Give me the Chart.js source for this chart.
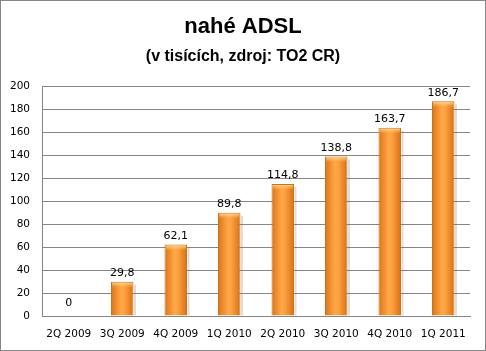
<!DOCTYPE html>
<html>
<head>
<meta charset="utf-8">
<script src="https://cdn.jsdelivr.net/npm/chart.js@4"></script>
<style>
  html, body { margin: 0; padding: 0; background: #fff; }
  #wrap { width: 486px; height: 351px; }
</style>
</head>
<body>
<div id="wrap"><canvas id="chart" width="486" height="351"></canvas></div>
<script>
// data
const categories = ["2Q 2009", "3Q 2009", "4Q 2009", "1Q 2010", "2Q 2010", "3Q 2010", "4Q 2010", "1Q 2011"];
const adslValues = [0, 29.8, 62.1, 89.8, 114.8, 138.8, 163.7, 186.7];
const titleText = "nahé ADSL";
const subtitleText = "(v tisících, zdroj: TO2 CR)";

const canvas = document.getElementById("chart");
const ctx = canvas.getContext("2d");

const fmt = (v) => String(v).replace(".", ",");

new Chart(ctx, {
  type: "bar",
  data: {
    labels: categories,
    datasets: [{
      data: adslValues,
      backgroundColor: () => "#f7922e", // функция -> у каждого столбца свои options
      borderColor: "#c9711c",
      borderWidth: 1,
      barPercentage: 0.42,
      categoryPercentage: 1,
    }],
  },
  options: {
    responsive: false,
    animation: false,
    layout: { padding: { top: 86, right: 16, left: 0, bottom: 0 } },
    plugins: { legend: { display: false }, tooltip: { enabled: false } },
    scales: {
      x: {
        grid: { display: false, drawTicks: false },
        border: { display: true, color: "#868686", width: 1 },
        ticks: { color: "#000", font: { family: "DejaVu Sans", size: 10.5 }, padding: 12, maxRotation: 0 },
        afterFit: (s) => { s.height = 35; },
      },
      y: {
        min: 0,
        max: 200,
        grid: { color: "#868686", lineWidth: 1, drawTicks: false },
        border: { display: true, color: "#868686", width: 1 },
        ticks: { stepSize: 20, color: "#000", font: { family: "DejaVu Sans", size: 10.5 }, padding: 12 },
        afterFit: (s) => { s.width = 42; },
      },
    },
  },
  plugins: [
    {
      // orange gradient for each bar
      id: "barGradient",
      beforeDatasetsDraw(chart) {
        const c = chart.ctx;
        chart.getDatasetMeta(0).data.forEach((bar) => {
          const half = bar.width / 2;
          const g = c.createLinearGradient(bar.x - half, 0, bar.x + half, 0);
          g.addColorStop(0, "#dc7416");
          g.addColorStop(0.45, "#ffa848");
          g.addColorStop(0.6, "#fca040");
          g.addColorStop(1, "#d8700f");
          bar.options.backgroundColor = g;
        });
      },
      afterDatasetsDraw(chart) {
        const c = chart.ctx;
        c.save();
        chart.getDatasetMeta(0).data.forEach((bar, i) => {
          const half = bar.width / 2;
          const h = bar.base - bar.y;
          if (h > 6) {
            // light bevel on the top
            const g = c.createLinearGradient(0, bar.y, 0, bar.y + 6);
            g.addColorStop(0, "rgba(255,230,170,0.95)");
            g.addColorStop(1, "rgba(255,190,100,0)");
            c.fillStyle = g;
            c.fillRect(bar.x - half + 1, bar.y + 1, bar.width - 2, 6);
            // soft shadow on the right
            c.fillStyle = "rgba(120,120,120,0.25)";
            c.fillRect(bar.x + half + 0.5, bar.y + 3, 2, h - 3);
          }
          // value label
          c.fillStyle = "#000";
          c.font = "11px 'DejaVu Sans'";
          c.textAlign = "center";
          c.textBaseline = "bottom";
          c.fillText(fmt(adslValues[i]), bar.x, bar.y - (h > 0 ? 3 : 7));
        });
        c.restore();
      },
    },
    {
      // titles and outer frame
      id: "frame",
      afterDraw(chart) {
        const c = chart.ctx;
        c.save();
        c.strokeStyle = "#878787";
        c.lineWidth = 1;
        c.strokeRect(0.5, 0.5, chart.width - 1, chart.height - 1);
        c.fillStyle = "#000";
        c.textAlign = "center";
        c.textBaseline = "middle";
        c.font = "bold 22px 'Liberation Sans'";
        c.fillText(titleText, chart.width / 2, 27);
        c.font = "bold 16px 'Liberation Sans'";
        c.fillText(subtitleText, chart.width / 2, 57);
        c.restore();
      },
    },
  ],
});
</script>
</body>
</html>
